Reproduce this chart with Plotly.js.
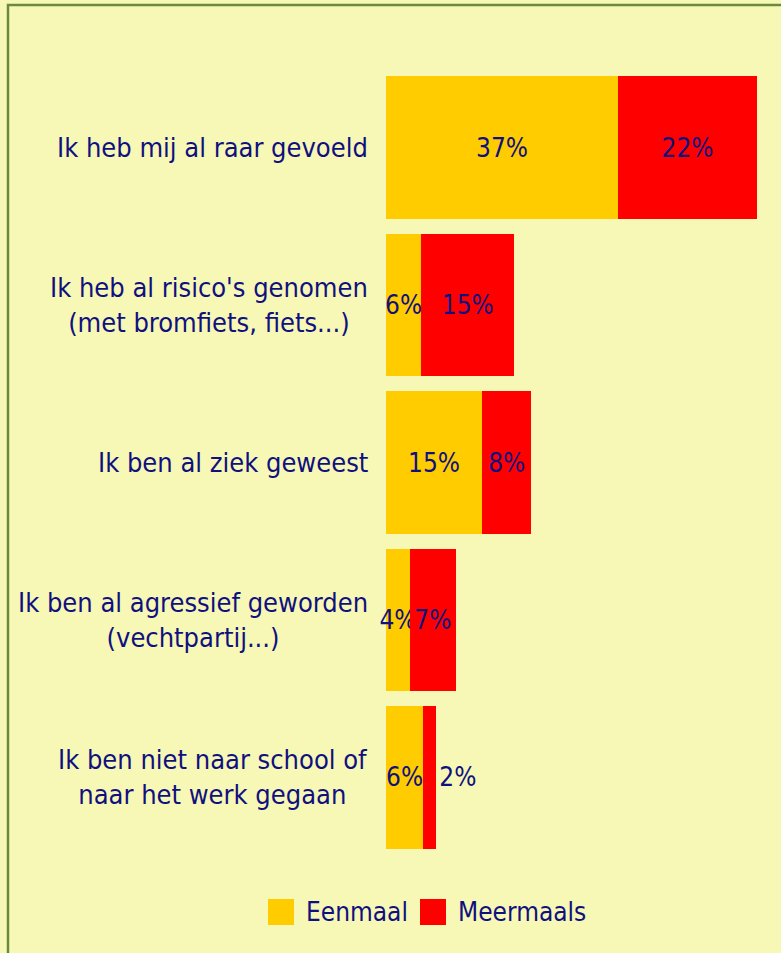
<!DOCTYPE html>
<html>
<head>
<meta charset="utf-8">
<script src="https://cdn.plot.ly/plotly-3.0.1.min.js"></script>
<style>
html,body{margin:0;padding:0;background:#F7F8B5;}
#chart{width:781px;height:953px;}
</style>
</head>
<body>
<div id="chart"></div>
<script>
const categories = [
  "Ik heb mij al raar gevoeld",
  "Ik heb al risico's genomen<br>(met bromfiets, fiets...)",
  "Ik ben al ziek geweest",
  "Ik ben al agressief geworden<br>(vechtpartij...)",
  "Ik ben niet naar school of<br>naar het werk gegaan"
];
const seriesNames = ["Eenmaal", "Meermaals"];
const seriesColors = ["#FFCC00", "#FF0000"];
const eenmaal = [36.9, 5.6, 15.3, 3.8, 5.9];
const meermaals = [22.1, 14.8, 7.8, 7.3, 2.1];
const meermaalsTextPos = ["inside", "inside", "inside", "inside", "outside"];

const FONT = '"DejaVu Sans Condensed", "Liberation Sans Narrow", "Arial Narrow", sans-serif';
const NAVY = '#10107F';
const FS_BAR = 26;
const FS_LABEL = 27;
const FS_LEG = 26;

const traces = [
  {
    type: 'bar', orientation: 'h', name: seriesNames[0],
    y: categories, x: eenmaal,
    marker: {color: seriesColors[0]},
    text: eenmaal.map(v => Math.round(v) + '%'),
    textposition: 'inside', insidetextanchor: 'middle', textangle: 0,
    constraintext: 'none', cliponaxis: false,
    textfont: {family: FONT, size: FS_BAR, color: NAVY},
    hoverinfo: 'x+y', showlegend: false
  },
  {
    type: 'bar', orientation: 'h', name: seriesNames[1],
    y: categories, x: meermaals,
    marker: {color: seriesColors[1]},
    text: meermaals.map(v => Math.round(v) + '%'),
    textposition: meermaalsTextPos, insidetextanchor: 'middle', textangle: 0,
    constraintext: 'none', cliponaxis: false,
    textfont: {family: FONT, size: FS_BAR, color: NAVY},
    insidetextfont: {family: FONT, size: FS_BAR, color: NAVY},
    outsidetextfont: {family: FONT, size: FS_BAR, color: NAVY},
    hoverinfo: 'x+y', showlegend: false
  }
];

const H = 953, W = 781;
const plotL = 386, plotR = 781, plotT = 69, plotB = 856;
const px = x => (x - plotL) / (plotR - plotL);
const py = y => (plotB - y) / (plotB - plotT);

const shapes = [
  {type: 'rect', xref: 'paper', yref: 'paper', layer: 'below',
   x0: px(8), x1: px(800), y0: py(5), y1: py(1000),
   line: {color: '#6B8A3A', width: 2.5}, fillcolor: 'rgba(0,0,0,0)'}
];
const annotations = [];

// category labels, centred multi-line like the reference
categories.forEach(c => {
  annotations.push({xref: 'paper', yref: 'y', x: 0, y: c, xshift: -16,
    xanchor: 'right', yanchor: 'middle', align: 'center', showarrow: false,
    text: c, font: {family: FONT, size: FS_LABEL, color: NAVY}});
});

// custom legend (large squares)
const legendItems = [
  {sq: [268, 294], tx: 304},
  {sq: [420, 446], tx: 456}
];
legendItems.forEach((it, i) => {
  shapes.push({type: 'rect', xref: 'paper', yref: 'paper',
    x0: px(it.sq[0]), x1: px(it.sq[1]), y0: py(925), y1: py(899),
    fillcolor: seriesColors[i], line: {width: 0}});
  annotations.push({xref: 'paper', yref: 'paper', x: px(it.tx), y: py(912),
    xanchor: 'left', yanchor: 'middle', showarrow: false,
    text: seriesNames[i], font: {family: FONT, size: FS_LEG, color: NAVY}});
});

const layout = {
  width: W, height: H,
  paper_bgcolor: '#F7F8B5', plot_bgcolor: 'rgba(0,0,0,0)',
  margin: {l: plotL, r: W - plotR, t: plotT, b: H - plotB, pad: 0},
  barmode: 'stack', bargap: 0.095,
  showlegend: false,
  font: {family: FONT, color: NAVY},
  xaxis: {range: [0, 62.8], visible: false, fixedrange: true},
  yaxis: {autorange: 'reversed', showgrid: false, zeroline: false, showline: false,
          ticks: '', showticklabels: false},
  shapes: shapes, annotations: annotations
};

Plotly.newPlot('chart', traces, layout, {displayModeBar: false, staticPlot: true});
</script>
</body>
</html>
